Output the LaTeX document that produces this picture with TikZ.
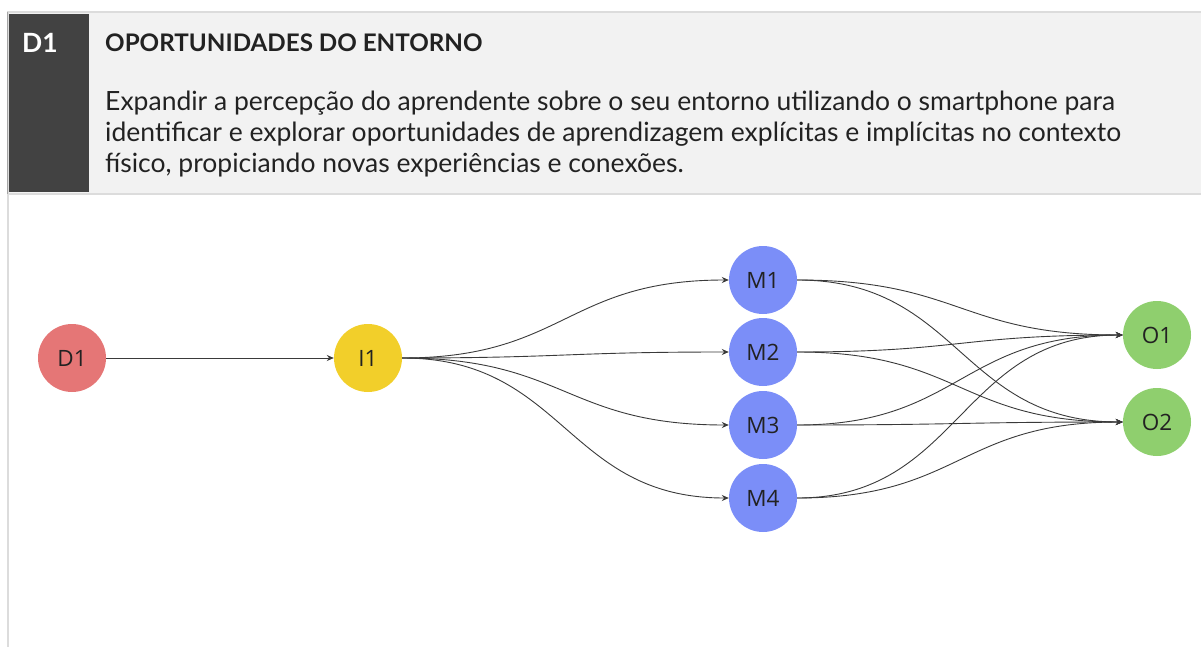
\documentclass[tikz,border=0pt]{standalone}
\usepackage{fontspec}
\setmainfont{Open Sans}
\newfontfamily\hdrfont{Lato}
\usetikzlibrary{arrows.meta}
\definecolor{hdrbg}{HTML}{F2F2F2}
\definecolor{hdrline}{HTML}{DCDCDC}
\definecolor{hdrdark}{HTML}{424242}
\definecolor{txt}{HTML}{222222}
\definecolor{edgecol}{HTML}{3A3A3A}
\definecolor{cred}{HTML}{E57676}
\definecolor{cyellow}{HTML}{F2CF2A}
\definecolor{cblue}{HTML}{7B8EF8}
\definecolor{cgreen}{HTML}{8FCF6E}
\tikzset{
  bubble/.style={circle, minimum size=68pt, inner sep=0pt, text=txt,
    font=\fontsize{22.5}{26}\selectfont},
  link/.style={draw=edgecol, line width=0.9pt, -{Stealth[length=7pt,width=6pt]}},
  hdrtext/.style={anchor=base west, inner sep=0pt, text=txt},
  bodytext/.style={hdrtext, font=\hdrfont\fontsize{26.5}{30}\selectfont}
}
\begin{document}
\begin{tikzpicture}[x=1pt,y=-1pt]
\useasboundingbox (0,0) rectangle (1201,647);
% header
\fill[hdrbg] (8,12) rectangle (1201,194);
\fill[hdrdark] (9,14) rectangle (89,192);
\draw[hdrline, line width=2pt] (7,12) -- (1201,12);
\draw[hdrline, line width=2pt] (7,194) -- (1201,194);
\draw[hdrline, line width=2pt] (8,12) -- (8,647);
\draw[gray!70, line width=0.8pt] (7.5,12) -- (7.5,194);
\node[hdrtext, text=white, font=\hdrfont\fontsize{26.5}{30}\selectfont\bfseries] (hid) at (22,53) {D1};
\node[hdrtext, font=\hdrfont\fontsize{24.2}{28}\selectfont\bfseries] (htitle) at (105,51.5) {OPORTUNIDADES DO ENTORNO};
\node[bodytext] (hl1) at (105,111) {Expandir a percepção do aprendente sobre o seu entorno utilizando o smartphone para};
\node[bodytext] (hl2) at (105,142) {identificar e explorar oportunidades de aprendizagem explícitas e implícitas no contexto};
\node[bodytext] (hl3) at (105,173) {físico, propiciando novas experiências e conexões.};
% nodes
\node[bubble, fill=cred] (D1) at (72,358) {D1};
\node[bubble, fill=cyellow] (I1) at (368,358) {I1};
\node[bubble, fill=cblue] (M1) at (763,280) {M1};
\node[bubble, fill=cblue] (M2) at (763,352) {M2};
\node[bubble, fill=cblue] (M3) at (763,425) {M3};
\node[bubble, fill=cblue] (M4) at (763,498) {M4};
\node[bubble, fill=cgreen] (O1) at (1157,335) {O1};
\node[bubble, fill=cgreen] (O2) at (1157,422) {O2};
% edges
\draw[link] (D1.east) -- (I1.west);
\foreach \m in {M1,M2,M3,M4}{
  \draw[link] (I1.east) .. controls +(163,0) and +(-163,0) .. (\m.west);
}
\foreach \m in {M1,M2,M3,M4}{
  \foreach \o in {O1,O2}{
    \draw[link] (\m.east) .. controls +(163,0) and +(-163,0) .. (\o.west);
  }
}
\end{tikzpicture}
\end{document}
